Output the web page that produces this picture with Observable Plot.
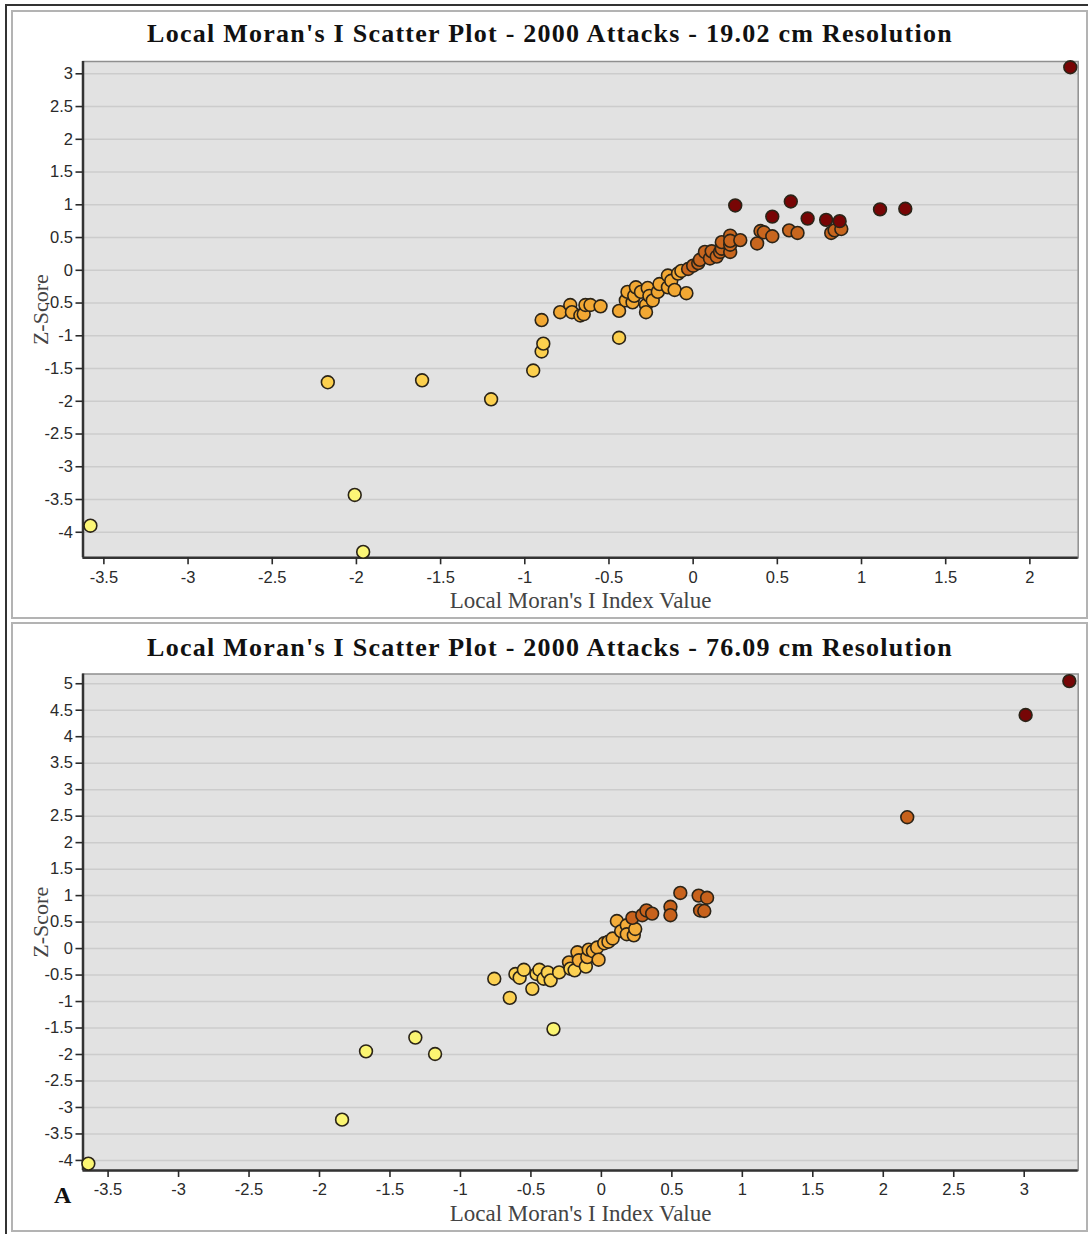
<!DOCTYPE html>
<html>
<head>
<meta charset="utf-8">
<script src="https://cdn.jsdelivr.net/npm/d3@7"></script>
<script src="https://cdn.jsdelivr.net/npm/@observablehq/plot@0.6"></script>
<style>
  html, body { margin: 0; padding: 0; background: #fff; }
  body { width: 1088px; height: 1234px; position: relative; overflow: hidden; }
  .box { position: absolute; box-sizing: border-box; }
  .title {
    position: absolute; left: 12px; width: 1076px; text-align: center;
    font-family: "Liberation Serif", "Times New Roman", serif; font-weight: bold;
    font-size: 26px; line-height: 26px; letter-spacing: 1.25px; color: #111; white-space: nowrap;
  }
  .chart { position: absolute; left: 0; }
  .tag {
    position: absolute; font-family: "Liberation Serif", serif; font-weight: bold;
    font-size: 24px; line-height: 24px; color: #111;
  }
</style>
</head>
<body>
<div class="box" style="left:5px;top:4px;width:1100px;height:1250px;border:2px solid #333;"></div>
<div class="box" style="left:11px;top:10px;width:1077px;height:609px;border:2px solid #b3b3b3;"></div>
<div class="box" style="left:11px;top:622px;width:1077px;height:610px;border:2px solid #b3b3b3;"></div>

<div class="title" style="top:21px;">Local Moran's I Scatter Plot - 2000 Attacks - 19.02 cm Resolution</div>
<div class="title" style="top:635px;">Local Moran's I Scatter Plot - 2000 Attacks - 76.09 cm Resolution</div>
<div id="chart1" class="chart" style="top:50px;"></div>
<div id="chart2" class="chart" style="top:662px;"></div>
<div class="tag" style="left:54px;top:1183px;">A</div>

<script>
// 19.02 cm grid: Local Moran's I value and its z-score for each cell
const fineMoranI = [
  -3.58, -2.01, -1.96, -2.17, -1.61, -1.20, -0.95, -0.90, -0.89, -0.90, -0.44,
  -0.79, -0.73, -0.72, -0.67, -0.65, -0.64, -0.61, -0.55, -0.44, -0.40, -0.36,
  -0.39, -0.35, -0.34, -0.31, -0.28, -0.28, -0.27, -0.26, -0.24, -0.21, -0.20,
  -0.15, -0.15, -0.13, -0.11, -0.09, -0.04, -0.07,
  -0.03, 0.00, 0.03, 0.04, 0.07, 0.10, 0.11, 0.14, 0.16, 0.17, 0.17, 0.22,
  0.22, 0.22, 0.22, 0.28, 0.38, 0.40, 0.42, 0.47, 0.57, 0.62, 0.82, 0.84, 0.88,
  0.25, 0.47, 0.58, 0.68, 0.79, 0.87, 1.11, 1.26, 2.24
];
const fineZScore = [
  -3.90, -3.43, -4.30, -1.71, -1.68, -1.97, -1.53, -1.24, -1.12, -0.76, -1.03,
  -0.64, -0.53, -0.64, -0.69, -0.67, -0.53, -0.53, -0.55, -0.62, -0.46, -0.49,
  -0.33, -0.39, -0.26, -0.33, -0.53, -0.64, -0.27, -0.39, -0.46, -0.33, -0.21,
  -0.26, -0.08, -0.16, -0.30, -0.05, -0.35, -0.01,
  0.02, 0.07, 0.11, 0.16, 0.28, 0.18, 0.29, 0.21, 0.28, 0.33, 0.43, 0.28,
  0.39, 0.53, 0.45, 0.46, 0.41, 0.60, 0.58, 0.52, 0.61, 0.57, 0.57, 0.61, 0.63,
  0.99, 0.82, 1.05, 0.79, 0.77, 0.75, 0.93, 0.94, 3.10
];

// 76.09 cm grid
const coarseMoranI = [
  -3.64, -1.84, -1.67, -1.32, -1.18, -0.34,
  -0.76, -0.65, -0.61, -0.58, -0.55, -0.49, -0.46, -0.44, -0.41, -0.38, -0.36,
  -0.30, -0.23, -0.22, -0.19, -0.17, -0.16, -0.11, -0.10, -0.09, -0.06, -0.03,
  -0.02, 0.02, 0.05, 0.08, 0.11, 0.14, 0.18, 0.18, 0.23, 0.24,
  0.22, 0.29, 0.32, 0.36, 0.49, 0.49, 0.56, 0.69, 0.70, 0.73, 0.75,
  2.17, 3.01, 3.32
];
const coarseZScore = [
  -4.06, -3.23, -1.94, -1.68, -1.99, -1.52,
  -0.57, -0.93, -0.48, -0.55, -0.40, -0.76, -0.48, -0.40, -0.57, -0.45, -0.60,
  -0.45, -0.26, -0.38, -0.41, -0.07, -0.22, -0.34, -0.16, -0.02, -0.05, 0.02,
  -0.21, 0.10, 0.13, 0.19, 0.52, 0.33, 0.44, 0.27, 0.25, 0.37,
  0.58, 0.63, 0.72, 0.66, 0.79, 0.63, 1.05, 1.00, 0.72, 0.71, 0.96,
  2.48, 4.41, 5.05
];

// axis tick values
const fineXTicks = [-3.5, -3, -2.5, -2, -1.5, -1, -0.5, 0, 0.5, 1, 1.5, 2];
const fineYTicks = [-4, -3.5, -3, -2.5, -2, -1.5, -1, -0.5, 0, 0.5, 1, 1.5, 2, 2.5, 3];
const coarseXTicks = [-3.5, -3, -2.5, -2, -1.5, -1, -0.5, 0, 0.5, 1, 1.5, 2, 2.5, 3];
const coarseYTicks = [-4, -3.5, -3, -2.5, -2, -1.5, -1, -0.5, 0, 0.5, 1, 1.5, 2, 2.5, 3, 3.5, 4, 4.5, 5];

const xTitle = "Local Moran's I Index Value";
const yTitle = "Z-Score";

function scatter({moranI, zScore, xTicks, yTicks, xDomain, yDomain, breaks, colors, marginTop, marginBottom}) {
  const cells = moranI.map((v, i) => ({moranI: v, z: zScore[i]}));
  const fmt = d => String(d);
  const serif = {fontFamily: "'Liberation Serif', serif", fontSize: 23, fill: "#444", letterSpacing: "1.2px"};
  return Plot.plot({
    width: 1088,
    height: 570,
    marginLeft: 82.5,
    marginRight: 10.3,
    marginTop,
    marginBottom,
    style: {fontFamily: "'Liberation Sans', Arial, sans-serif", fontSize: "16.5px", color: "#2a2a2a", background: "transparent", overflow: "visible"},
    x: {domain: xDomain, label: null},
    y: {domain: yDomain, label: null},
    color: {type: "threshold", domain: breaks, range: colors},
    marks: [
      Plot.frame({fill: "#e2e2e2", stroke: null}),
      Plot.gridY(yTicks, {stroke: "#cccccc", strokeOpacity: 1, strokeWidth: 1.5}),
      Plot.frame({stroke: "#8f8f8f", strokeWidth: 1.5}),
      Plot.ruleX([xDomain[0]], {stroke: "#333", strokeWidth: 2.5}),
      Plot.ruleY([yDomain[0]], {stroke: "#333", strokeWidth: 2.5}),
      Plot.axisX({ticks: xTicks, tickFormat: fmt, tickSize: 7, tickPadding: 6, strokeWidth: 1.6, label: null}),
      Plot.axisY({ticks: yTicks, tickFormat: fmt, tickSize: 7, tickPadding: 3, strokeWidth: 1.6, label: null}),
      Plot.text([xTitle], {frameAnchor: "bottom", dy: 50, ...serif}),
      Plot.text([yTitle], {frameAnchor: "left", textAnchor: "middle", dx: -42, rotate: -90, ...serif, fontSize: 22, letterSpacing: "0.8px"}),
      Plot.dot(cells, {x: "moranI", y: "z", fill: "z", r: 6.4, stroke: "#2b2418", strokeWidth: 1.6})
    ]
  });
}

document.getElementById("chart1").append(scatter({
  moranI: fineMoranI, zScore: fineZScore,
  xTicks: fineXTicks, yTicks: fineYTicks,
  xDomain: [-3.624, 2.287], yDomain: [-4.39, 3.188],
  breaks: [-2.5, -0.9, 0, 0.7],
  colors: ["#fcf676", "#fcd04e", "#f2a833", "#c8661e", "#780505"],
  marginTop: 11, marginBottom: 62.7
}));

document.getElementById("chart2").append(scatter({
  moranI: coarseMoranI, zScore: coarseZScore,
  xTicks: coarseXTicks, yTicks: coarseYTicks,
  xDomain: [-3.678, 3.383], yDomain: [-4.19, 5.184],
  breaks: [-1.2, -0.3, 0.55, 3],
  colors: ["#fbf572", "#fcd152", "#f4ad3a", "#c8621c", "#760606"],
  marginTop: 11.5, marginBottom: 62
}));
</script>
</body>
</html>
